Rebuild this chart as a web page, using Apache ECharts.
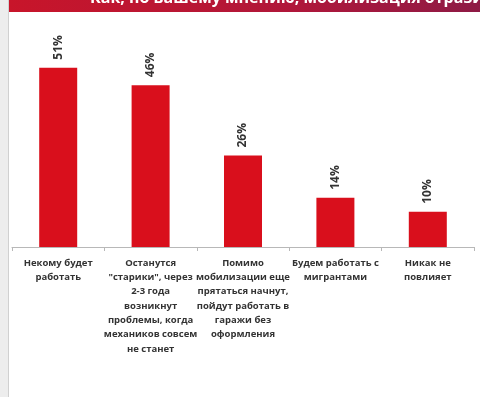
<!DOCTYPE html>
<html><head><meta charset="utf-8">
<script src="https://cdn.jsdelivr.net/npm/echarts@6/dist/echarts.min.js"></script>
<style>html,body{margin:0;padding:0;background:#fff}#c{width:480px;height:397px}</style>
</head><body><div id="c"></div>
<script>
var categories = [
  "Некому будет\nработать",
  "Останутся\n\"старики\", через\n2-3 года\nвозникнут\nпроблемы, когда\nмехаников совсем\nне станет",
  "Помимо\nмобилизации еще\nпрятаться начнут,\nпойдут работать в\nгаражи без\nоформления",
  "Будем работать с\nмигрантами",
  "Никак не\nповлияет"
];
var values = [51, 46, 26, 14, 10];
var titleText = "Как, по вашему мнению, мобилизация отразится на отрасли?";

var chart = echarts.init(document.getElementById('c'), null, {renderer: 'canvas'});
chart.setOption({
  animation: false,
  backgroundColor: '#fff',
  graphic: [
    {type: 'rect', left: 0, top: 0, shape: {width: 8, height: 397}, style: {fill: '#ededed'}, z: 10},
    {type: 'rect', left: 8, top: 0, shape: {width: 1, height: 397}, style: {fill: '#d0d0d0'}, z: 10},
    {type: 'rect', left: 9, top: 0, shape: {width: 471, height: 12},
      style: {fill: new echarts.graphic.LinearGradient(0, 0, 1, 0, [
        {offset: 0, color: '#c8152a'}, {offset: 0.6, color: '#b0173a'}, {offset: 1, color: '#8e1a45'}])}, z: 10},
    {type: 'text', x: 90, y: -10, z: 11,
      style: {text: titleText, fill: '#ffffff', font: 'bold 16px "Open Sans", sans-serif'}}
  ],
  grid: {left: 12, right: 6, top: 36, bottom: 150, containLabel: false},
  xAxis: {
    type: 'category', data: categories, boundaryGap: true,
    axisLine: {lineStyle: {color: '#b8b8b8', width: 1}},
    axisTick: {show: true, length: 4, lineStyle: {color: '#b8b8b8'}},
    axisLabel: {interval: 0, color: '#333333', fontSize: 9.5, fontWeight: 'bold',
      fontFamily: '"Open Sans", sans-serif', lineHeight: 14.3, margin: 9}
  },
  yAxis: {type: 'value', min: 0, max: 60, show: false, splitLine: {show: false}},
  series: [{
    type: 'bar', data: values, barWidth: 38,
    itemStyle: {color: '#d90f1c'},
    label: {show: true, position: 'top', rotate: 90, align: 'left', verticalAlign: 'middle',
      distance: 8, formatter: '{c}%', color: '#333333', fontSize: 12, fontWeight: 'bold',
      fontFamily: '"Open Sans", sans-serif'}
  }]
});
</script></body></html>
